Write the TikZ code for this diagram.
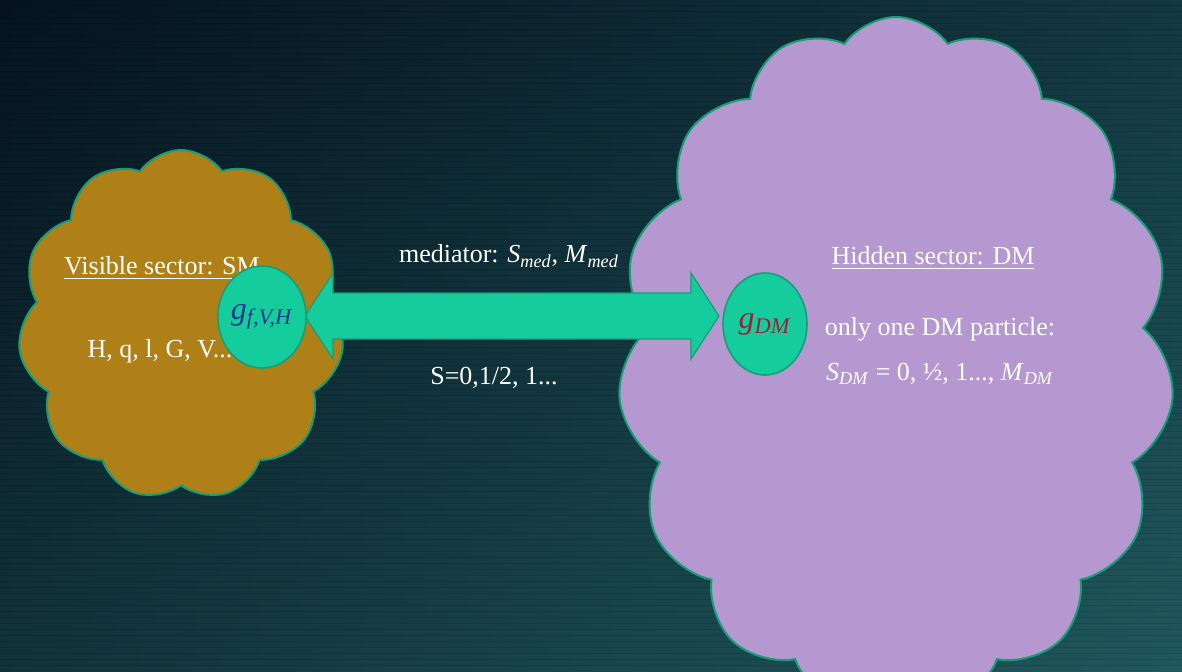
\documentclass[tikz,border=0pt]{standalone}
\usepackage{fontspec}
\setmainfont{Liberation Serif}
\usepackage{tikz}
\usetikzlibrary{shapes.symbols, shapes.geometric, positioning, calc}

\definecolor{bgdark}{HTML}{06131E}
\definecolor{bgteal}{HTML}{1B4C54}
\definecolor{bglow}{HTML}{2A6E6E}
\definecolor{smgold}{HTML}{B08018}
\definecolor{dmlilac}{HTML}{B598D0}
\definecolor{rimgreen}{HTML}{169E78}
\definecolor{medgreen}{HTML}{14CC9C}
\definecolor{gvblue}{HTML}{1A3A8C}
\definecolor{gdmred}{HTML}{A01E3C}

\newcommand{\isub}[2]{\textit{#1}\textsubscript{\textit{#2}}}

\begin{document}
\begin{tikzpicture}[x=0.5pt, y=-0.5pt,
    sector/.style={cloud, cloud ignores aspect, draw=rimgreen, line width=1pt, inner sep=0pt},
    coupling/.style={ellipse, draw=rimgreen, line width=0.8pt, fill=medgreen,
        minimum width=42pt, minimum height=51pt, inner sep=0pt, font=\fontsize{16}{18}\selectfont},
    txt/.style={text=white, inner sep=1pt, font=\fontsize{13}{15}\selectfont}
]
    % background
    \useasboundingbox (0,0) rectangle (1182,671);
    \shade[left color=bgdark, right color=bgteal] (0,0) rectangle (1182,671);
    \shade[top color=bgdark, bottom color=bglow, opacity=0.35] (0,0) rectangle (1182,671);
    \foreach \y in {5,11,...,665}
        \draw[black, opacity=0.12, line width=0.5pt] (0,\y) -- (1182,\y);

    % sectors
    \node (vis) [sector, fill=smgold, cloud puffs=11, cloud puff arc=110,
        minimum width=163pt, minimum height=175pt] at (181,325) {};
    \node (hid) [sector, fill=dmlilac, cloud puffs=15, cloud puff arc=110,
        minimum width=278pt, minimum height=345pt] at (896,362) {};

    % texts
    \node (vistitle) [txt] at (162,268) {\underline{Visible sector: SM}};
    \node (vislist) [txt] at (160,351) {H, q, l, G, V...};
    \node (medtitle) [txt] at (509,256) {mediator: \isub{S}{med}, \isub{M}{med}};
    \node (medspin) [txt] at (494,378) {S=0,1/2, 1...};
    \node (hidtitle) [txt] at (933,258) {\underline{Hidden sector: DM}};
    \node (hidone) [txt] at (940,329) {only one DM particle:};
    \node (hidspin) [txt, below=9pt of hidone] {\isub{S}{DM} = 0, ½, 1..., \isub{M}{DM}};

    % mediator
    \coordinate (ltip) at (305,316);
    \coordinate (rtip) at (719,316);
    \fill[medgreen, draw=rimgreen, line width=0.6pt]
        (ltip) -- ($(ltip)+(28,-43)$) -- ($(ltip)+(28,-23)$)
        -- ($(rtip)+(-28,-23)$) -- ($(rtip)+(-28,-43)$) -- (rtip)
        -- ($(rtip)+(-28,43)$) -- ($(rtip)+(-28,23)$)
        -- ($(ltip)+(28,23)$) -- ($(ltip)+(28,43)$) -- cycle;

    % couplings
    \node (gv) [coupling] at (262,317) {\color{gvblue}\isub{g}{f,V,H}};
    \node (gdm) [coupling] at (765,324) {\color{gdmred}\isub{g}{DM}};
\end{tikzpicture}
\end{document}
